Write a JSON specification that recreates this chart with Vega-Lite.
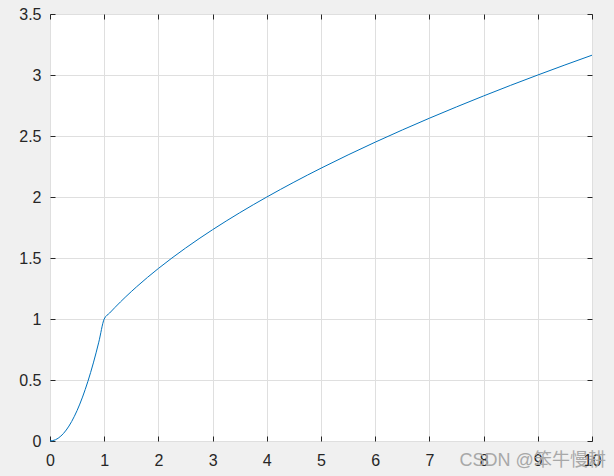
{
  "$schema": "https://vega.github.io/schema/vega-lite/v6.json",
  "autosize": "none",
  "width": 542,
  "height": 427,
  "padding": {"top": 14, "left": 50, "right": 22, "bottom": 35},
  "background": "#f0f0f0",
  "config": {
    "view": {"stroke": "#262626", "strokeWidth": 1, "fill": "white"},
    "axis": {
      "labelFont": "Liberation Sans",
      "labelFontSize": 16,
      "labelColor": "#262626",
      "tickColor": "#262626",
      "domain": false,
      "gridColor": "#dfdfdf",
      "gridOpacity": 1,
      "title": null,
      "labelExpr": "'' + datum.value"
    }
  },
  "title": {
    "text": "CSDN @笨牛慢耕",
    "orient": "bottom",
    "anchor": "end",
    "font": "Liberation Sans, Noto Sans CJK SC",
    "fontSize": 18,
    "fontWeight": "normal",
    "color": "#a8a8a8",
    "opacity": 0.85,
    "offset": -16,
    "dx": 5
  },
  "data": {
    "values": [
      {"x": 0, "y": 0}, {"x": 0.1, "y": 0.01}, {"x": 0.2, "y": 0.04}, {"x": 0.3, "y": 0.09},
      {"x": 0.4, "y": 0.16}, {"x": 0.5, "y": 0.25}, {"x": 0.6, "y": 0.36}, {"x": 0.7, "y": 0.49},
      {"x": 0.8, "y": 0.64}, {"x": 0.9, "y": 0.81}, {"x": 1.0, "y": 1.0},
      {"x": 1.1, "y": 1.0488}, {"x": 1.2, "y": 1.0954}, {"x": 1.3, "y": 1.1402}, {"x": 1.4, "y": 1.1832},
      {"x": 1.5, "y": 1.2247}, {"x": 1.6, "y": 1.2649}, {"x": 1.8, "y": 1.3416}, {"x": 2.0, "y": 1.4142},
      {"x": 2.25, "y": 1.5}, {"x": 2.5, "y": 1.5811}, {"x": 3.0, "y": 1.7321}, {"x": 3.5, "y": 1.8708},
      {"x": 4.0, "y": 2.0}, {"x": 4.5, "y": 2.1213}, {"x": 5.0, "y": 2.2361}, {"x": 5.5, "y": 2.3452},
      {"x": 6.0, "y": 2.4495}, {"x": 6.5, "y": 2.5495}, {"x": 7.0, "y": 2.6458}, {"x": 7.5, "y": 2.7386},
      {"x": 8.0, "y": 2.8284}, {"x": 8.5, "y": 2.9155}, {"x": 9.0, "y": 3.0}, {"x": 9.5, "y": 3.0822},
      {"x": 10.0, "y": 3.1623}
    ]
  },
  "layer": [
    {
      "mark": {"type": "line", "color": "#0072BD", "strokeWidth": 1, "interpolate": "monotone"},
      "encoding": {
        "x": {"field": "x", "type": "quantitative", "scale": {"domain": [0, 10], "nice": false},
              "axis": {"orient": "bottom", "values": [0,1,2,3,4,5,6,7,8,9,10], "grid": true, "tickSize": -5, "labelPadding": 16, "labelFlush": false}},
        "y": {"field": "y", "type": "quantitative", "scale": {"domain": [0, 3.5], "nice": false},
              "axis": {"orient": "left", "values": [0,0.5,1,1.5,2,2.5,3,3.5], "grid": true, "tickSize": -5, "labelPadding": 14, "labelFlush": false}}
      }
    },
    {
      "mark": {"type": "line", "opacity": 0},
      "encoding": {
        "x": {"field": "x", "type": "quantitative", "scale": {"domain": [0, 10], "nice": false},
              "axis": {"orient": "top", "values": [0,1,2,3,4,5,6,7,8,9,10], "grid": false, "tickSize": -5, "labels": false}},
        "y": {"field": "y", "type": "quantitative", "scale": {"domain": [0, 3.5], "nice": false},
              "axis": {"orient": "right", "values": [0,0.5,1,1.5,2,2.5,3,3.5], "grid": false, "tickSize": -5, "labels": false}}
      }
    }
  ],
  "resolve": {"axis": {"x": "independent", "y": "independent"}}
}
